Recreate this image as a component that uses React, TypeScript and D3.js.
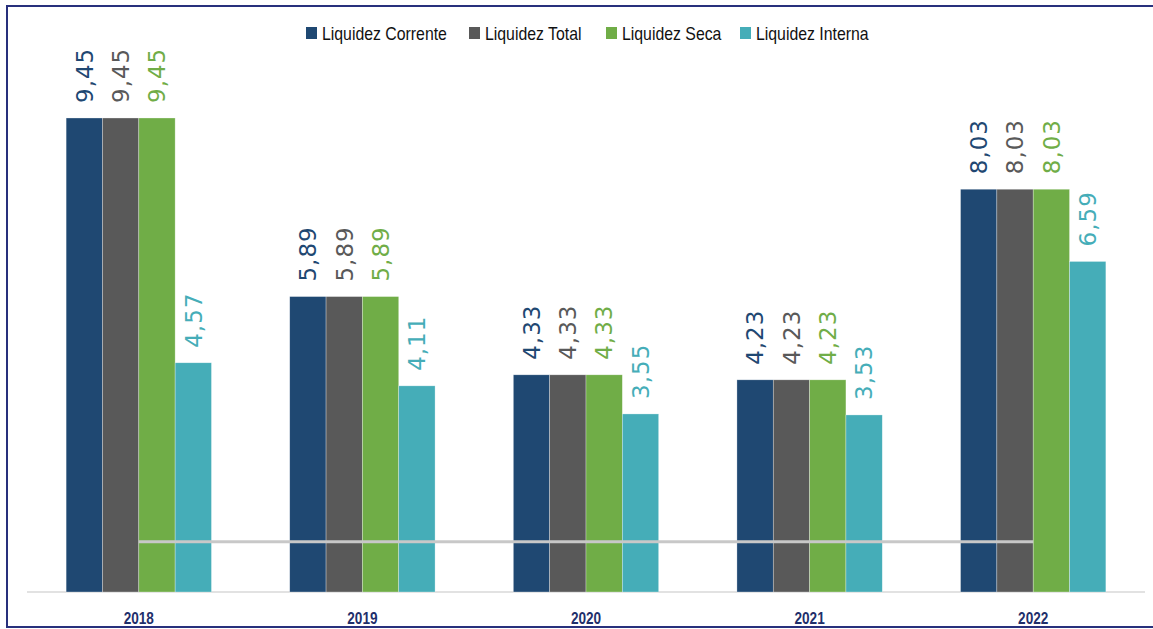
import React from "react";
import * as d3 from "d3";

const categories = ["2018", "2019", "2020", "2021", "2022"];
const seriesNames = ["Liquidez Corrente", "Liquidez Total", "Liquidez Seca", "Liquidez Interna"];
const liquidezCorrente = [9.45, 5.89, 4.33, 4.23, 8.03];
const liquidezTotal = [9.45, 5.89, 4.33, 4.23, 8.03];
const liquidezSeca = [9.45, 5.89, 4.33, 4.23, 8.03];
const liquidezInterna = [4.57, 4.11, 3.55, 3.53, 6.59];
const referenceLine = [1, 1, 1, 1, 1];
const colors = ["#1F4872", "#595959", "#70AD47", "#45ADB8"];

const W = 1153;
const H = 629;

export default function App() {
  const series = [liquidezCorrente, liquidezTotal, liquidezSeca, liquidezInterna];
  const x = d3.scaleBand<string>().domain(categories).range([27, 1145]).paddingInner(0.35).paddingOuter(0.175);
  const xs = d3.scaleBand<number>().domain(d3.range(series.length)).range([0, x.bandwidth()]);
  const y = d3.scaleLinear().domain([0, 10]).range([592, 90.4]);
  const line = d3
    .line<number>()
    .x((_, i) => (x(categories[i]) as number) + x.bandwidth() / 2)
    .y((d) => y(d));
  const fmt = (v: number) => v.toFixed(2).replace(".", ",");
  const legendX = [306, 469, 606, 740];

  return (
    <svg width={W} height={H} style={{ position: "absolute", left: 0, top: 0, background: "#fff" }}>
      <rect x={7} y={6} width={1160} height={621} fill="#fff" stroke="#28307C" strokeWidth={2} />
      <line x1={27} x2={1145} y1={592} y2={592} stroke="#D9D9D9" strokeWidth={1.5} />
      {series.map((vals, si) =>
        vals.map((v, ci) => {
          const bx = (x(categories[ci]) as number) + (xs(si) as number);
          return (
            <rect
              key={`b${si}-${ci}`}
              x={bx}
              y={y(v)}
              width={xs.bandwidth()}
              height={y(0) - y(v)}
              fill={colors[si]}
              stroke="#ffffff"
              strokeOpacity={0.5}
              strokeWidth={0.6}
            />
          );
        })
      )}
      <path d={line(referenceLine) || ""} fill="none" stroke="#C8C8C8" strokeWidth={3} />
      {series.map((vals, si) =>
        vals.map((v, ci) => {
          const cx = (x(categories[ci]) as number) + (xs(si) as number) + xs.bandwidth() / 2;
          const ty = y(v) - 15;
          return (
            <text
              key={`l${si}-${ci}`}
              transform={`translate(${cx},${ty}) rotate(-90)`}
              dy="0.36em"
              fill={colors[si]}
              fontFamily="DejaVu Sans"
              fontSize={23}
              letterSpacing={1}
              textAnchor="start"
            >
              {fmt(v)}
            </text>
          );
        })
      )}
      {categories.map((c) => (
        <text
          key={c}
          transform={`translate(${(x(c) as number) + x.bandwidth() / 2},624) scale(0.8,1)`}
          textAnchor="middle"
          fill="#1F2F6B"
          fontFamily="Liberation Sans, sans-serif"
          fontWeight="bold"
          fontSize={17}
        >
          {c}
        </text>
      ))}
      {seriesNames.map((n, i) => (
        <g key={n} transform={`translate(${legendX[i]},27)`}>
          <rect x={0} y={0} width={11} height={12} fill={colors[i]} />
          <text
            transform="translate(16,12.5) scale(0.88,1)"
            fill="#111"
            fontFamily="Liberation Sans, sans-serif"
            fontSize={18}
          >
            {n}
          </text>
        </g>
      ))}
    </svg>
  );
}
